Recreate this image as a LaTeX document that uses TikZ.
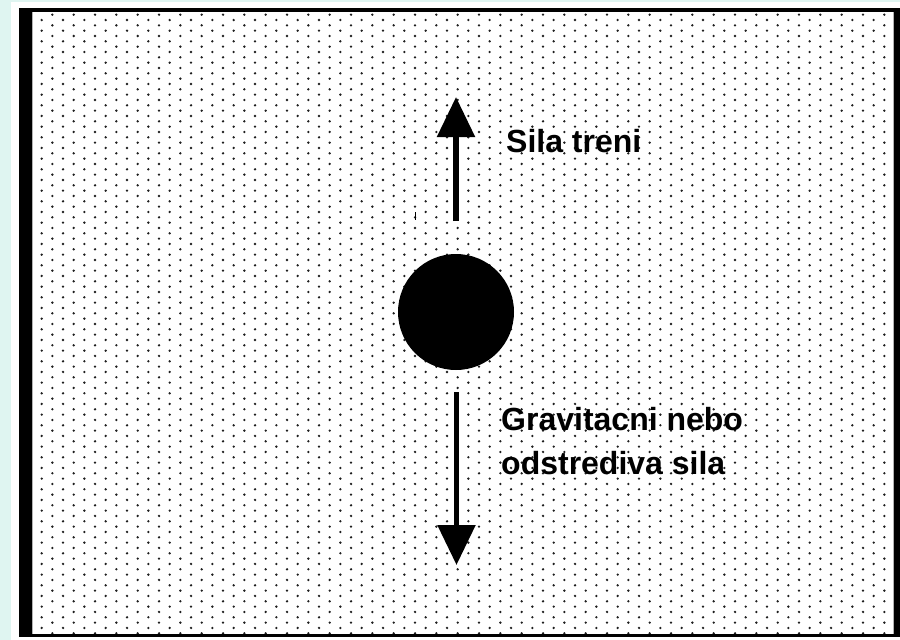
\documentclass[tikz,border=0pt]{standalone}
\usepackage{fontspec}
\setmainfont{Liberation Sans}
\usetikzlibrary{arrows.meta}
\definecolor{bgcyan}{RGB}{223,245,241}
\definecolor{dotgray}{RGB}{30,30,30}
\tikzset{
  framebar/.style={fill=black},
  force/.style={line width=5.5pt,-{Triangle[width=37pt,length=40pt]}},
  lbl/.style={inner sep=0pt,anchor=base west,align=left,font=\fontsize{32}{44}\selectfont\bfseries},
  ballstyle/.style={circle,fill=black,inner sep=0pt,minimum width=116pt,minimum height=116pt}
}
\begin{document}
\begin{tikzpicture}[x=1pt,y=-1pt]
\useasboundingbox (0,0) rectangle (900,640);
\fill[bgcyan] (0,0) rectangle (900,640);
\fill[white] (11,2) rectangle (900,640);
% dot pattern
\begin{scope}
\clip (32,12) rectangle (894,636);
\foreach \r in {-1,...,116} {
  \pgfmathsetmacro{\xo}{41.7+mod(\r+2,2)*10.667}
  \pgfmathsetmacro{\yo}{20+\r*5.333}
  \fill[dotgray] \foreach \k in {0,...,41} {
    ({\xo+\k*21.333},\yo) circle (1.3)
  };
}
\end{scope}
% frame
\fill[framebar] (19,8) rectangle (32,637);
\fill[framebar] (19,8) rectangle (900,12);
\fill[framebar] (894,8) rectangle (900,637);
\fill[framebar] (19,634) rectangle (900,636.5);
\fill[gray!60] (32,12) rectangle (33,634);
\fill[gray!60] (893,12) rectangle (894,634);
% ball and forces
\node[ballstyle] (ball) at (456,312) {};
\coordinate (upstart) at (456,221);
\coordinate (uptip) at (456,97);
\coordinate (downstart) at (456.5,392);
\coordinate (downtip) at (456.5,565);
\draw[force] (upstart) -- (uptip);
\draw[force] (downstart) -- (downtip);
\draw[line width=1.5pt] (415.5,212) -- (415.5,220);
% labels
\node[lbl] (friction) at (506,152) {Sila treni};
\node[lbl] (gravity) at (501,474) {Gravitacni nebo\\odstrediva sila};
\end{tikzpicture}
\end{document}
